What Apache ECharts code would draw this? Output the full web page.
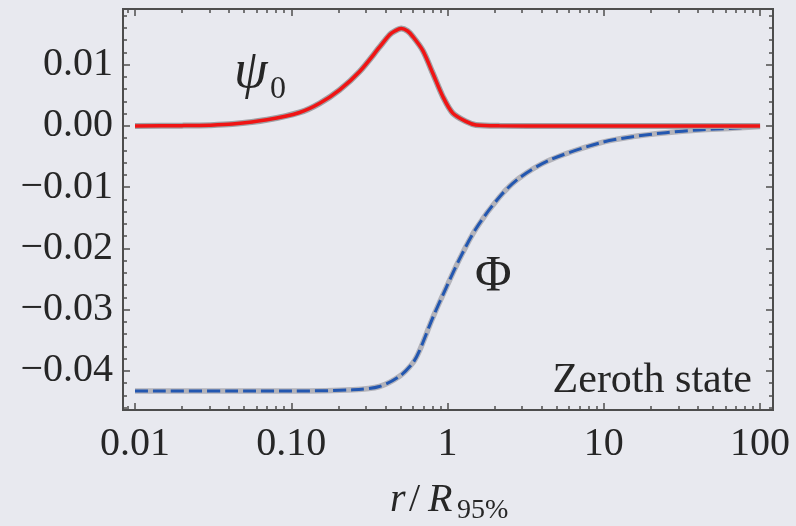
<!DOCTYPE html>
<html>
<head>
<meta charset="utf-8">
<script src="https://cdn.jsdelivr.net/npm/echarts@6/dist/echarts.min.js"></script>
<style>
html,body{margin:0;padding:0;background:#e8e9ef;}
#c{width:796px;height:526px;}
</style>
</head>
<body>
<div id="c"></div>
<script>
// ---- data ----
const psiR   = [0.01, 0.02, 0.03, 0.042, 0.07, 0.113, 0.152, 0.204, 0.274, 0.368, 0.426, 0.46, 0.506, 0.555, 0.600, 0.695, 0.805, 0.933, 1.08, 1.32, 1.52, 2.15, 5, 20, 100];
const psiVal = [0, 0.00005, 0.00012, 0.0003, 0.001, 0.0022, 0.0037, 0.0059, 0.0089, 0.0129, 0.0149, 0.0155, 0.0159, 0.0155, 0.0146, 0.0123, 0.0086, 0.0048, 0.0021, 0.0007, 0.00016, 0.00002, 0, 0, 0];
const phiR   = [0.01, 0.05, 0.1, 0.248, 0.367, 0.493, 0.600, 0.662, 0.805, 0.981, 1.19, 1.52, 2.15, 2.88, 4.48, 9.35, 15.3, 25.0, 40.7, 66.5, 100];
const phiVal = [-0.0433, -0.0433, -0.0433, -0.0431, -0.04256, -0.0409, -0.0387, -0.0367, -0.0313, -0.0264, -0.0218, -0.0168, -0.0116, -0.0085, -0.0056, -0.0028, -0.00175, -0.0011, -0.00065, -0.00038, -0.0001];

const xTickValues = [0.01, 0.1, 1, 10, 100];
const xTickLabels = ['0.01', '0.10', '1', '10', '100'];
const yTickValues = [-0.04, -0.03, -0.02, -0.01, 0, 0.01];
const yTickLabels = ['\u22120.04', '\u22120.03', '\u22120.02', '\u22120.01', '0.00', '0.01'];

const xMin = 0.00838, xMax = 121;
const yMin = -0.0464, yMax = 0.0191;

// minor ticks
const xMinor = [];
[0.001, 0.01, 0.1, 1, 10].forEach(d => { for (let k = 2; k <= 9; k++) { const v = +(d * k).toPrecision(3); if (v > xMin && v < xMax) xMinor.push(v); } });
const yMinor = [];
for (let i = -23; i <= 9; i++) { if (i % 5 !== 0) yMinor.push(+(i * 0.002).toFixed(3)); }

const pair = (xs, ys) => xs.map((x, i) => [x, ys[i]]);

const FONT = '"Liberation Serif", "DejaVu Serif", serif';
const TXT = '#262626';
const FRAME = '#4d4d4d';

function xLab(v) {
  for (let i = 0; i < xTickValues.length; i++) if (Math.abs(Math.log10(v) - Math.log10(xTickValues[i])) < 1e-6) return xTickLabels[i];
  return '';
}
function yLab(v) {
  for (let i = 0; i < yTickValues.length; i++) if (Math.abs(v - yTickValues[i]) < 1e-9) return yTickLabels[i];
  return '';
}

const tickStyle = { color: FRAME, width: 1.5 };
function xAx(pos, vals, len, labels) {
  return {
    type: 'log', logBase: 10, min: xMin, max: xMax, position: pos,
    axisLine: { show: false, onZero: false }, splitLine: { show: false }, minorTick: { show: false },
    axisTick: { show: true, inside: true, length: len, customValues: vals, lineStyle: tickStyle },
    axisLabel: labels ? { show: true, customValues: vals, formatter: xLab, margin: 14, fontFamily: FONT, fontSize: 40, color: TXT } : { show: false }
  };
}
function yAx(pos, vals, len, labels) {
  return {
    type: 'value', min: yMin, max: yMax, position: pos,
    axisLine: { show: false, onZero: false }, splitLine: { show: false },
    axisTick: { show: true, inside: true, length: len, customValues: vals, lineStyle: tickStyle },
    axisLabel: labels ? { show: true, customValues: vals, formatter: yLab, margin: 10, fontFamily: FONT, fontSize: 40, color: TXT } : { show: false }
  };
}

const lineCommon = { type: 'line', showSymbol: false, smooth: 0.3 };

const chart = echarts.init(document.getElementById('c'), null, { renderer: 'canvas' });
chart.setOption({
  backgroundColor: '#e8e9ef',
  animation: false,
  grid: { left: 123, right: 23, top: 9, bottom: 116, show: true, borderColor: FRAME, borderWidth: 2, backgroundColor: 'transparent' },
  xAxis: [xAx('bottom', xTickValues, 7, true), xAx('bottom', xMinor, 4, false), xAx('top', xTickValues, 7, false), xAx('top', xMinor, 4, false)],
  yAxis: [yAx('left', yTickValues, 7, true), yAx('left', yMinor, 4, false), yAx('right', yTickValues, 7, false), yAx('right', yMinor, 4, false)],
  series: [
    Object.assign({}, lineCommon, { data: pair(phiR, phiVal), lineStyle: { color: '#b3b3ba', width: 5.5 }, z: 2 }),
    Object.assign({}, lineCommon, { data: pair(phiR, phiVal), lineStyle: { color: '#2357b0', width: 3, type: [13, 5] }, z: 3 }),
    Object.assign({}, lineCommon, { data: pair(psiR, psiVal), lineStyle: { color: '#a0a0a4', width: 6 }, z: 4 }),
    Object.assign({}, lineCommon, { data: pair(psiR, psiVal), lineStyle: { color: '#f01414', width: 3.5 }, z: 5 })
  ],
  graphic: [
    { type: 'text', left: 234, top: 46, style: { text: '\u03C8', font: 'italic 54px ' + FONT, fill: TXT } },
    { type: 'text', left: 270, top: 74, style: { text: '0', font: '32px ' + FONT, fill: TXT } },
    { type: 'text', left: 475, top: 252, style: { text: '\u03A6', font: '50px ' + FONT, fill: TXT } },
    { type: 'text', right: 44, top: 360, style: { text: 'Zeroth state', font: '42px ' + FONT, fill: TXT } },
    { type: 'text', left: 390, top: 480, style: { text: 'r', font: 'italic 40px ' + FONT, fill: TXT } },
    { type: 'text', left: 409, top: 480, style: { text: '/', font: '40px ' + FONT, fill: TXT } },
    { type: 'text', left: 428, top: 480, style: { text: 'R', font: 'italic 40px ' + FONT, fill: TXT } },
    { type: 'text', left: 457, top: 497, style: { text: '95%', font: '28px ' + FONT, fill: TXT } }
  ]
});
</script>
</body>
</html>
